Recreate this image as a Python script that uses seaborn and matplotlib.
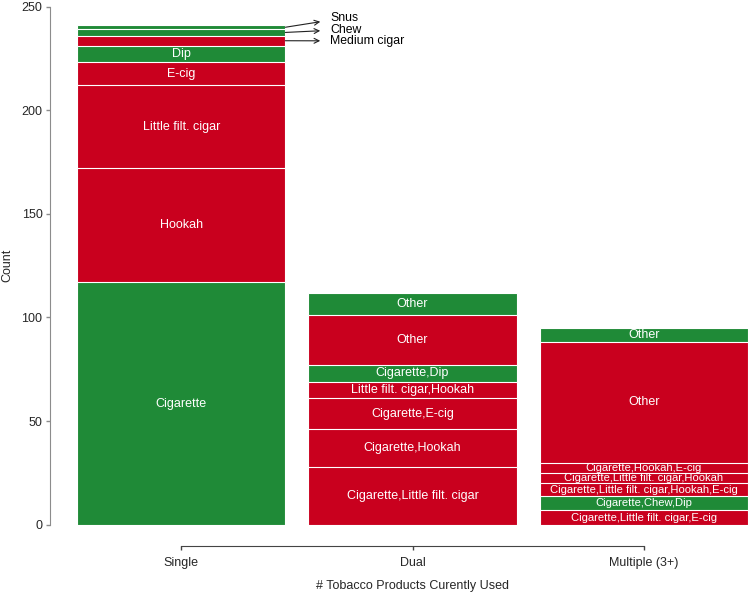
import pandas as pd
import matplotlib.pyplot as plt
import seaborn as sns

# Datos
groups = ["Single", "Dual", "Multiple (3+)"]

single_labels = ["Cigarette", "Hookah", "Little filt. cigar", "E-cig", "Dip",
                 "Medium cigar", "Chew", "Snus"]
single_counts = [117, 55, 40, 11, 8, 5, 3, 2]
single_cat = ["B", "A", "A", "A", "B", "A", "B", "B"]

dual_labels = ["Cigarette,Little filt. cigar", "Cigarette,Hookah", "Cigarette,E-cig",
               "Little filt. cigar,Hookah", "Cigarette,Dip", "Other", "Other"]
dual_counts = [28, 18, 15, 8, 8, 24, 11]
dual_cat = ["A", "A", "A", "A", "B", "A", "B"]

multi_labels = ["Cigarette,Little filt. cigar,E-cig", "Cigarette,Chew,Dip",
                "Cigarette,Little filt. cigar,Hookah,E-cig",
                "Cigarette,Little filt. cigar,Hookah", "Cigarette,Hookah,E-cig",
                "Other", "Other"]
multi_counts = [7, 7, 6, 5, 5, 58, 7]
multi_cat = ["A", "B", "A", "A", "A", "A", "B"]

# segmentos pequeños con etiqueta fuera de la barra
outside_labels = ["Medium cigar", "Chew", "Snus"]

palette = {"A": "#C9001E", "B": "#1F8A37"}

# Construir la tabla con alturas acumuladas
frames = []
for g, labs, cnts, cats in zip(groups,
                               [single_labels, dual_labels, multi_labels],
                               [single_counts, dual_counts, multi_counts],
                               [single_cat, dual_cat, multi_cat]):
    d = pd.DataFrame({"group": g, "label": labs, "count": cnts, "cat": cats})
    d["top"] = d["count"].cumsum()
    frames.append(d)
df = pd.concat(frames, ignore_index=True)
df["mid"] = df["top"] - df["count"] / 2
df["xpos"] = df["group"].map({g: i for i, g in enumerate(groups)})

sns.set_style("ticks")
plt.rcParams["font.family"] = ["Liberation Sans", "DejaVu Sans"]

fig, ax = plt.subplots(figsize=(7.5, 5.93), dpi=100)
fig.subplots_adjust(left=0.103, right=0.997, bottom=0.115, top=0.989)

# Barras apiladas: se dibujan los acumulados de mayor a menor
for _, row in df.sort_values("top", ascending=False).iterrows():
    sns.barplot(x=[row["group"]], y=[row["top"]], order=groups,
                color=palette[row["cat"]], width=0.9, edgecolor="white",
                linewidth=0.8, saturation=1, errorbar=None, ax=ax)

ax.set_xlim(-0.45, 2.45)
ax.set_ylim(0, 250)
ax.set_yticks(range(0, 251, 50))

# Etiquetas dentro de las barras
text_y = {"Medium cigar": 233.4, "Chew": 238.9, "Snus": 244.5}
for _, row in df.iterrows():
    if row["group"] == "Single" and row["label"] in outside_labels:
        ax.annotate(row["label"], xy=(row["xpos"] + 0.45, row["mid"]),
                    xytext=(row["xpos"] + 0.645, text_y[row["label"]]),
                    ha="left", va="center", fontsize=8.8, color="black",
                    arrowprops=dict(arrowstyle="<-", color="#222222", lw=0.8,
                                    shrinkA=5, shrinkB=0))
    else:
        small = row["group"] == "Multiple (3+)" and row["label"] != "Other"
        ax.text(row["xpos"], row["mid"], row["label"], ha="center", va="center",
                color="white", fontsize=8.1 if small else 9)

# Ejes
sns.despine(ax=ax)
ax.spines["left"].set_position(("outward", 19.5))
ax.spines["bottom"].set_position(("outward", 15))
ax.spines["left"].set_bounds(0, 250)
ax.spines["bottom"].set_bounds(0, 2)
ax.spines["left"].set_color("#8c8c8c")
ax.spines["bottom"].set_color("#444444")
ax.tick_params(axis="y", length=3, width=1, color="#8c8c8c", labelsize=9, pad=2.5)
ax.tick_params(axis="x", length=3, width=1, color="#444444", labelsize=9, pad=5)

ax.set_xlabel("# Tobacco Products Curently Used", fontsize=9, labelpad=8)
ax.set_ylabel("Count", fontsize=9, labelpad=6)

fig.savefig("out.png", dpi=100)
plt.close(fig)
